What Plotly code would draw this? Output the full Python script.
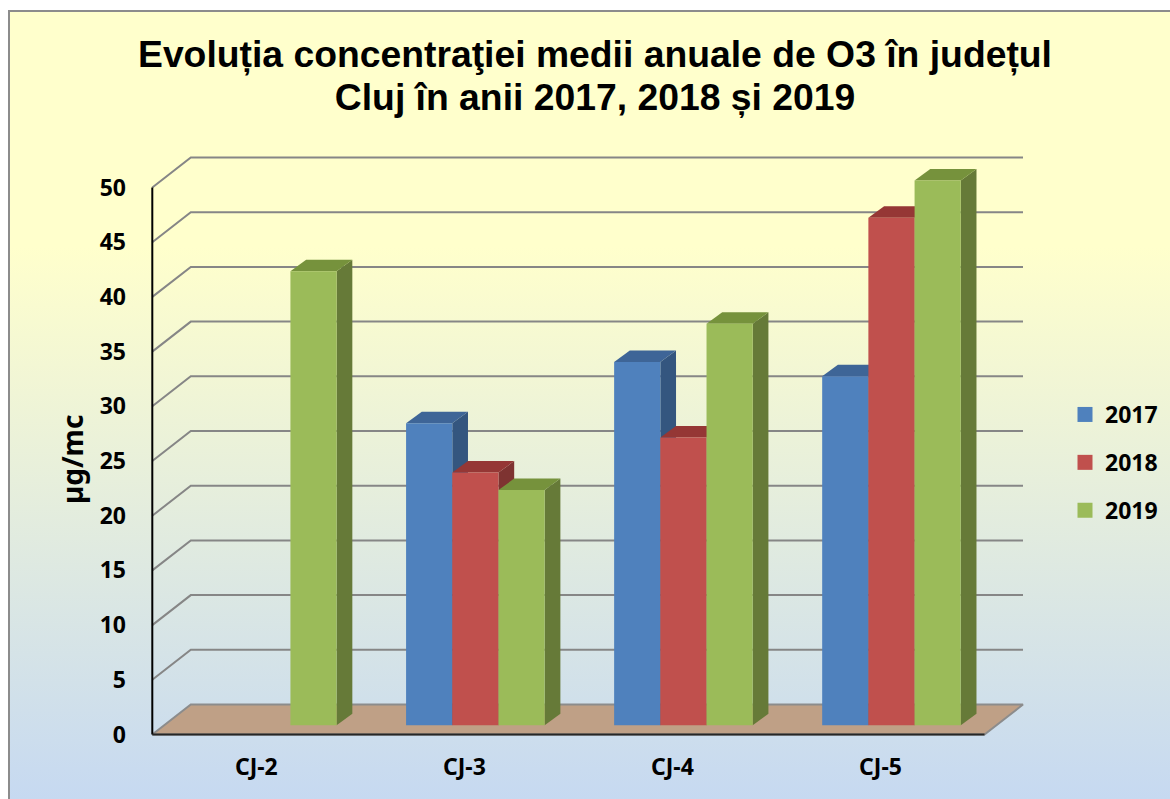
import base64
import plotly.graph_objects as go

categories = ["CJ-2", "CJ-3", "CJ-4", "CJ-5"]
years = ["2017", "2018", "2019"]
v2017 = [None, 27.6, 33.2, 31.9]
v2018 = [None, 23.1, 26.3, 46.4]
v2019 = [41.5, 21.5, 36.7, 49.8]
y_ticks = [0, 5, 10, 15, 20, 25, 30, 35, 40, 45, 50]

W, H = 1170, 799
L, R, T, B = 152.3, 984.5, 187.5, 734.5
PXX = (R - L) / 4
PXY = (B - T) / 50
DX, DY = 38.5 / PXX, 30 / PXY        # wall depth, axis units
OX, OY = 11 / PXX, 9.2 / PXY         # bar offset from front plane
BX, BY = 15.7 / PXX, 11.5 / PXY      # bar depth
BW = 46.2 / PXX

# plot window, larger than the front plane so the depth faces are not clipped
WL, WR, WT, WB = 150, 1030, 150, 738
xrange_ = [-0.5 - (L - WL) / PXX, -0.5 + (WR - L) / PXX]
yrange_ = [-(WB - B) / PXY, (B - WT) / PXY]

series = [
    ("2017", v2017, "#4F81BD", "#34567F", "#3E6597"),
    ("2018", v2018, "#C0504D", "#7E3331", "#953735"),
    ("2019", v2019, "#9BBB59", "#667A38", "#76923C"),
]

fig = go.Figure()

# wall gridlines
gx, gy = [], []
for t in y_ticks[1:]:
    gx += [-0.5, -0.5 + DX, 3.5 + DX, None]
    gy += [t, t + DY, t + DY, None]
fig.add_trace(go.Scatter(x=gx, y=gy, mode="lines", line=dict(color="#868686", width=2),
                         showlegend=False, hoverinfo="skip"))
# floor
fig.add_trace(go.Scatter(x=[-0.5, 3.5, 3.5 + DX, -0.5 + DX, -0.5], y=[0, 0, DY, DY, 0],
                         mode="lines", fill="toself", fillcolor="#BFA086",
                         line=dict(color="#8C8C8C", width=2),
                         showlegend=False, hoverinfo="skip"))
# axis lines
fig.add_trace(go.Scatter(x=[-0.5, -0.5], y=[0, 50], mode="lines", line=dict(color="black", width=2),
                         showlegend=False, hoverinfo="skip"))
fig.add_trace(go.Scatter(x=[-0.5, 3.5], y=[0, 0], mode="lines", line=dict(color="#262626", width=2),
                         showlegend=False, hoverinfo="skip"))

# side and top faces behind the bars
for i, (name, vals, front, side, top) in enumerate(series):
    for c, v in enumerate(vals):
        if v is None:
            continue
        x0 = c + OX + (i - 1.5) * BW
        x1 = x0 + BW
        y0, y1 = OY, OY + v
        fig.add_trace(go.Scatter(x=[x1, x1 + BX, x1 + BX, x1, x1], y=[y0, y0 + BY, y1 + BY, y1, y0],
                                 mode="lines", fill="toself", fillcolor=side, line=dict(width=0),
                                 showlegend=False, hoverinfo="skip"))
        fig.add_trace(go.Scatter(x=[x0, x0 + BX, x1 + BX, x1, x0], y=[y1, y1 + BY, y1 + BY, y1, y1],
                                 mode="lines", fill="toself", fillcolor=top, line=dict(width=0),
                                 showlegend=False, hoverinfo="skip"))

# front faces
for i, (name, vals, front, side, top) in enumerate(series):
    xs = [c + OX + (i - 1) * BW for c in range(len(categories))]
    fig.add_trace(go.Bar(x=xs, y=vals, base=OY, width=BW, name=name, marker=dict(color=front, line=dict(width=0)),
                         xaxis="x2", yaxis="y2", showlegend=False, legendgroup=name))
    fig.add_trace(go.Scatter(x=[None], y=[None], mode="markers", name=name, legendgroup=name,
                             marker=dict(symbol="square", size=15, color=front)))

svg = ('<svg xmlns="http://www.w3.org/2000/svg" width="100" height="100" preserveAspectRatio="none">'
       '<defs><linearGradient id="g" x1="0" y1="0" x2="0" y2="1">'
       '<stop offset="0" stop-color="#FFFFCC"/><stop offset="0.3" stop-color="#FFFFCC"/>'
       '<stop offset="1" stop-color="#C6D9F1"/></linearGradient></defs>'
       '<rect width="100" height="100" fill="url(#g)"/></svg>')
bg = "data:image/svg+xml;base64," + base64.b64encode(svg.encode()).decode()

label_font = "Noto Sans"
dom_x = [WL / W, WR / W]
dom_y = [(H - WB) / H, (H - WT) / H]

title_span = '<span style="font-size:37.3px">%s</span>'
fig.update_layout(
    width=W, height=H, autosize=False,
    margin=dict(l=0, r=0, t=0, b=0),
    paper_bgcolor="white", plot_bgcolor="rgba(0,0,0,0)",
    barmode="overlay",
    title=dict(text=title_span % "Evoluția concentraţiei medii anuale de O3 în județul" + "<br>"
                    + title_span % "Cluj în anii 2017, 2018 și 2019",
               x=595 / W, xanchor="center", y=(H - 67) / H, yanchor="top", automargin=False,
               font=dict(family="Liberation Sans", size=33, color="black", weight="bold")),
    xaxis=dict(domain=dom_x, range=xrange_, tickmode="array", tickvals=[0, 1, 2, 3], ticktext=categories,
               showgrid=False, zeroline=False, showline=False, ticks="", automargin=False,
               ticklabelstandoff=13, tickfont=dict(family=label_font, size=23, color="black", weight="bold")),
    yaxis=dict(domain=dom_y, range=yrange_, tickmode="array", tickvals=y_ticks,
               showgrid=False, zeroline=False, showline=False, ticks="", automargin=False,
               ticklabelstandoff=23, tickfont=dict(family=label_font, size=23, color="black", weight="bold")),
    xaxis2=dict(domain=dom_x, range=xrange_, overlaying="x", visible=False),
    yaxis2=dict(domain=dom_y, range=yrange_, overlaying="y", visible=False),
    legend=dict(x=1065 / W, xanchor="left", y=(H - 393) / H, yanchor="top", bgcolor="rgba(0,0,0,0)",
                tracegroupgap=15, traceorder="grouped", itemwidth=30,
                font=dict(family=label_font, size=23, color="black", weight="bold")),
    annotations=[dict(text="µg/mc", textangle=-90, xref="paper", yref="paper", x=72 / W, y=(H - 460) / H,
                      xanchor="center", yanchor="middle", showarrow=False,
                      font=dict(family=label_font, size=28, color="black", weight="bold"))],
    images=[dict(source=bg, xref="paper", yref="paper", x=10 / W, y=(H - 11) / H, sizex=(W - 10) / W,
                 sizey=(H - 11) / H, xanchor="left", yanchor="top", sizing="stretch", layer="below")],
    shapes=[
        dict(type="line", xref="paper", yref="paper", x0=9 / W, x1=9 / W, y0=0, y1=(H - 10) / H,
             line=dict(color="#8C8C8C", width=2), layer="below"),
        dict(type="line", xref="paper", yref="paper", x0=8 / W, x1=1, y0=(H - 11) / H, y1=(H - 11) / H,
             line=dict(color="#8C8C8C", width=2), layer="below"),
    ],
)

fig.write_html("out.html", config=dict(displayModeBar=False),
               post_script="document.body.style.margin='0';document.body.style.overflow='hidden';")
